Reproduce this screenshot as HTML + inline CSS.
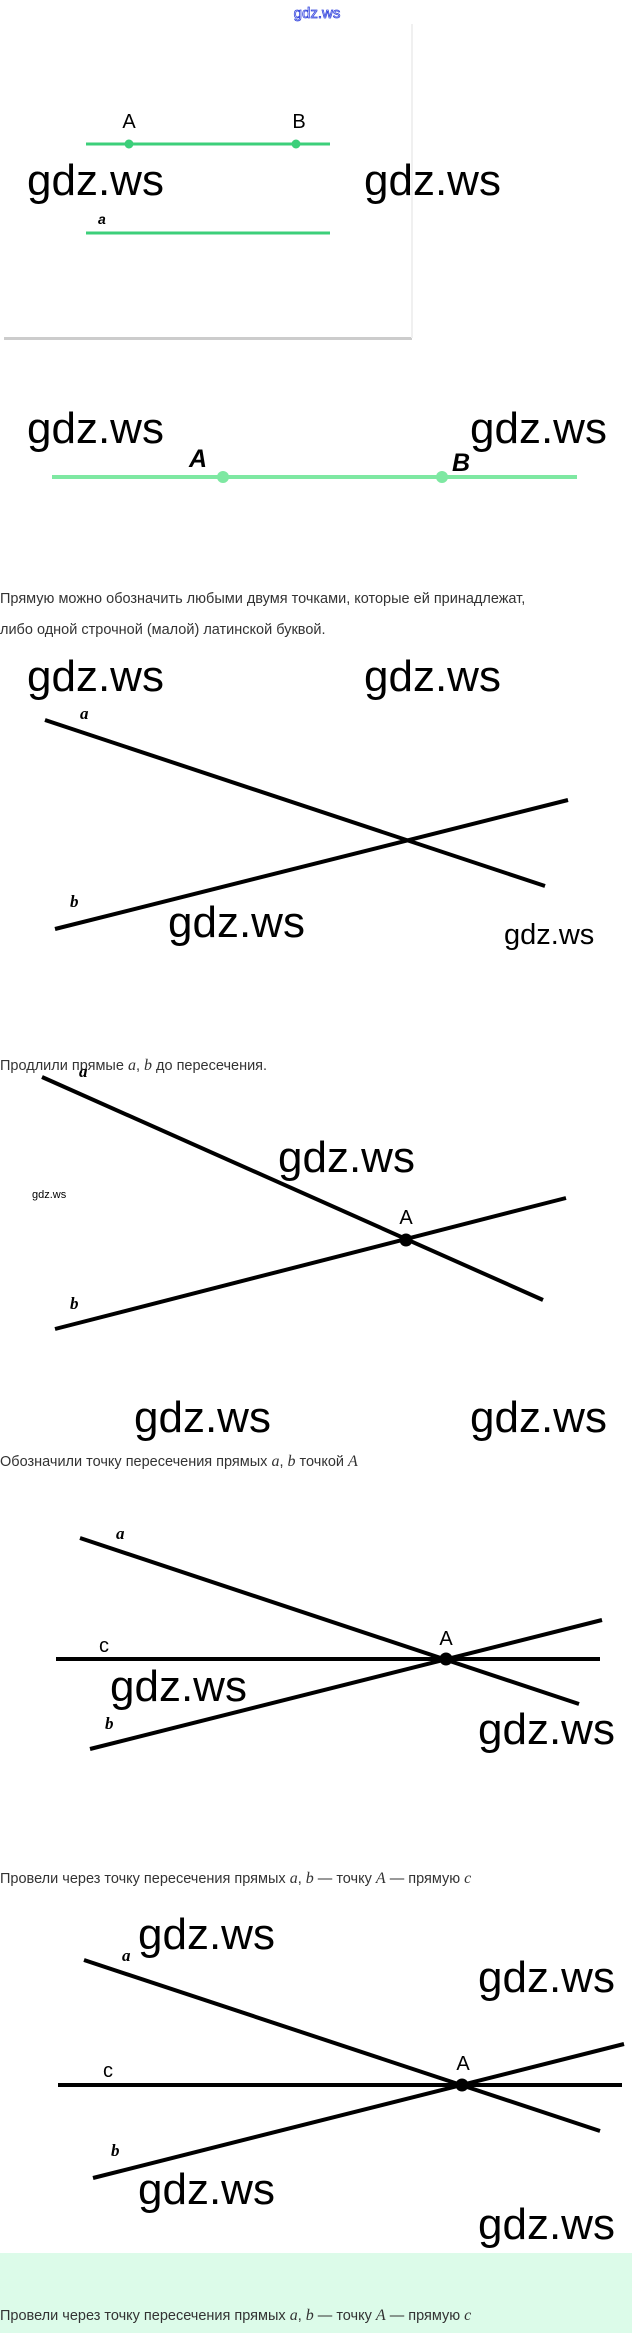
<!DOCTYPE html>
<html><head><meta charset="utf-8"><style>
html,body{margin:0;padding:0;background:#fff;width:632px;height:2333px;overflow:hidden}
svg{display:block}
.w{font-family:"Liberation Sans",sans-serif;font-size:44px;fill:#000}
.t{font-family:"Liberation Sans","Noto Sans CJK SC",sans-serif;font-size:14.5px;fill:#333}
.m{font-family:"Liberation Serif",serif;font-style:italic;font-size:16px}
.lb{font-family:"Liberation Serif",serif;font-style:italic;font-weight:bold;font-size:17px;fill:#000}
.cap{font-family:"Liberation Sans",sans-serif;font-size:20px;fill:#000}
</style></head><body>
<svg width="632" height="2333" viewBox="0 0 632 2333" xmlns="http://www.w3.org/2000/svg">
<rect x="0" y="2253" width="632" height="80" fill="#dcfbe9"/>
<text x="317" y="18" text-anchor="middle" font-family="Liberation Sans,sans-serif" font-size="15" fill="none" stroke="#3344dd" stroke-width="0.8">gdz.ws</text>
<!-- box 1 -->
<rect x="4" y="24" width="408" height="314" fill="#fff" />
<rect x="4" y="337" width="408" height="3" fill="#ccc"/>
<rect x="411" y="24" width="2" height="314" fill="#f0f0f0"/>
<line x1="86" y1="144" x2="330" y2="144" stroke="#3ccf7a" stroke-width="3"/>
<circle cx="129" cy="144" r="4.5" fill="#3ccf7a"/><circle cx="296" cy="144" r="4.5" fill="#3ccf7a"/>
<text x="129" y="128" text-anchor="middle" font-family="Liberation Sans,sans-serif" font-size="20" >A</text>
<text x="299" y="128" text-anchor="middle" font-family="Liberation Sans,sans-serif" font-size="20">B</text>
<line x1="86" y1="233" x2="330" y2="233" stroke="#3ccf7a" stroke-width="3"/>
<text x="98" y="224" font-family="Liberation Sans,sans-serif" font-style="italic" font-weight="bold" font-size="14">a</text>
<text class="w" x="27" y="195">gdz.ws</text>
<text class="w" x="364" y="195">gdz.ws</text>
<!-- second -->
<text class="w" x="27" y="443">gdz.ws</text>
<text class="w" x="470" y="443">gdz.ws</text>
<line x1="52" y1="477" x2="577" y2="477" stroke="#7ee8a2" stroke-width="4"/>
<circle cx="223" cy="477" r="6" fill="#7ee8a2"/><circle cx="442" cy="477" r="6" fill="#7ee8a2"/>
<text x="198" y="467" text-anchor="middle" font-family="Liberation Sans,sans-serif" font-style="italic" font-weight="bold" font-size="25">A</text>
<text x="461" y="471" text-anchor="middle" font-family="Liberation Sans,sans-serif" font-style="italic" font-weight="bold" font-size="25">B</text>
<text class="t" x="0" y="603">Прямую можно обозначить любыми двумя точками, которые ей принадлежат,</text>
<text class="t" x="0" y="634">либо одной строчной (малой) латинской буквой.</text>
<!-- diag 1 -->
<text class="w" x="27" y="691">gdz.ws</text>
<text class="w" x="364" y="691">gdz.ws</text>
<line x1="45" y1="720" x2="545" y2="886" stroke="#000" stroke-width="4"/>
<line x1="55" y1="929" x2="568" y2="800" stroke="#000" stroke-width="4"/>
<text class="lb" x="80" y="719">a</text>
<text class="lb" x="70" y="907">b</text>
<text class="w" x="168" y="937">gdz.ws</text>
<text class="w" x="504" y="944" style="font-size:29px">gdz.ws</text>
<text class="t" x="0" y="1070">Продлили прямые <tspan class="m">a</tspan>,  <tspan class="m">b</tspan> до пересечения.</text>
<!-- diag 2 -->
<line x1="42" y1="1077" x2="543" y2="1300" stroke="#000" stroke-width="4"/>
<line x1="55" y1="1329" x2="566" y2="1198" stroke="#000" stroke-width="4"/>
<circle cx="406" cy="1240" r="6.5" fill="#000"/>
<text class="cap" x="406" y="1224" text-anchor="middle">A</text>
<text class="lb" x="79" y="1077">a</text>
<text class="lb" x="70" y="1309">b</text>
<text class="w" x="278" y="1172">gdz.ws</text>
<text x="32" y="1198" font-family="Liberation Sans,sans-serif" font-size="11">gdz.ws</text>
<text class="w" x="134" y="1432">gdz.ws</text>
<text class="w" x="470" y="1432">gdz.ws</text>
<text class="t" x="0" y="1466">Обозначили точку пересечения прямых <tspan class="m">a</tspan>,  <tspan class="m">b</tspan> точкой <tspan class="m">A</tspan></text>
<!-- diag 3 -->
<line x1="80" y1="1538" x2="579" y2="1704" stroke="#000" stroke-width="4"/>
<line x1="90" y1="1749" x2="602" y2="1620" stroke="#000" stroke-width="4"/>
<line x1="56" y1="1659" x2="600" y2="1659" stroke="#000" stroke-width="4"/>
<circle cx="446" cy="1659" r="6.5" fill="#000"/>
<text class="cap" x="446" y="1645" text-anchor="middle">A</text>
<text class="cap" x="104" y="1652" text-anchor="middle">c</text>
<text class="lb" x="116" y="1539">a</text>
<text class="lb" x="105" y="1729">b</text>
<text class="w" x="110" y="1701">gdz.ws</text>
<text class="w" x="478" y="1744">gdz.ws</text>
<text class="t" x="0" y="1883">Провели через точку пересечения прямых <tspan class="m">a</tspan>,  <tspan class="m">b</tspan> — точку <tspan class="m">A</tspan> — прямую <tspan class="m">c</tspan></text>
<!-- diag 4 -->
<line x1="84" y1="1960" x2="600" y2="2131" stroke="#000" stroke-width="4"/>
<line x1="93" y1="2178" x2="624" y2="2044" stroke="#000" stroke-width="4"/>
<line x1="58" y1="2085" x2="622" y2="2085" stroke="#000" stroke-width="4"/>
<circle cx="462" cy="2085" r="6.5" fill="#000"/>
<text class="cap" x="463" y="2070" text-anchor="middle">A</text>
<text class="cap" x="108" y="2077" text-anchor="middle">c</text>
<text class="lb" x="122" y="1961">a</text>
<text class="lb" x="111" y="2156">b</text>
<text class="w" x="138" y="1949">gdz.ws</text>
<text class="w" x="478" y="1992">gdz.ws</text>
<text class="w" x="138" y="2204">gdz.ws</text>
<text class="w" x="478" y="2239">gdz.ws</text>
<text class="t" x="0" y="2320">Провели через точку пересечения прямых <tspan class="m">a</tspan>,  <tspan class="m">b</tspan> — точку <tspan class="m">A</tspan> — прямую <tspan class="m">c</tspan></text>
</svg>
</body></html>
